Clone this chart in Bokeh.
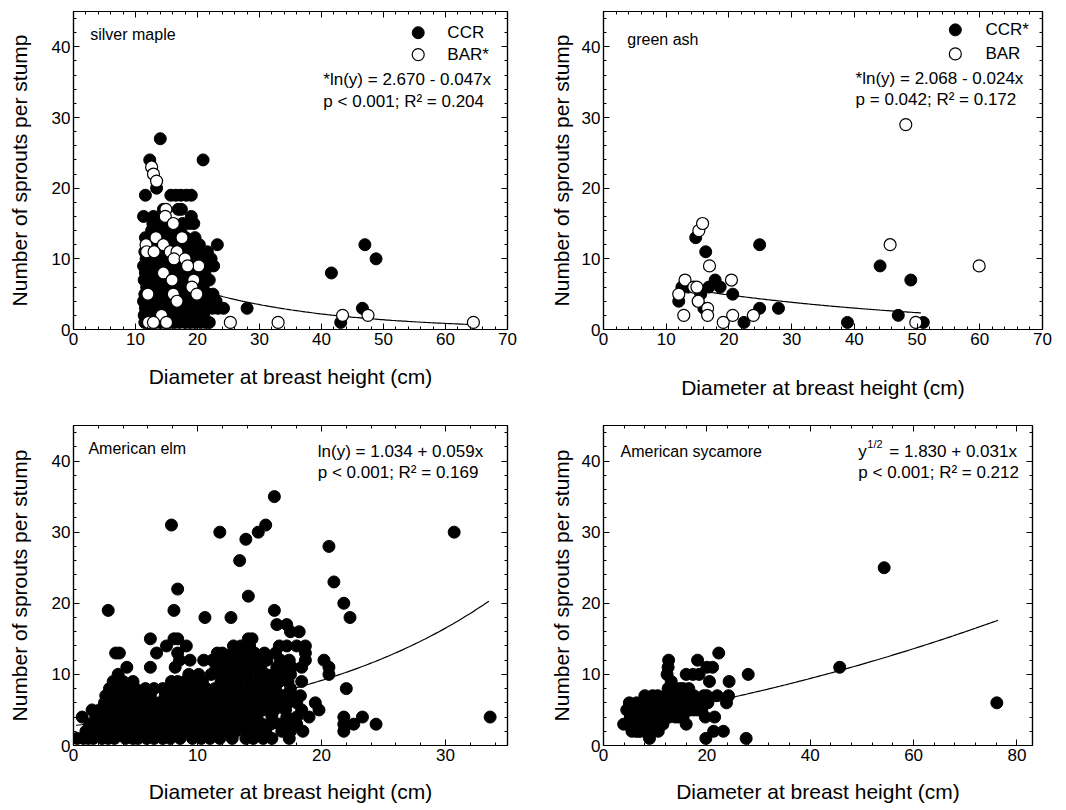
import numpy as np
from bokeh.plotting import figure
from bokeh.layouts import column, row
from bokeh.models import LinearAxis, Label, Range1d, SingleIntervalTicker
from bokeh.embed import file_html
from bokeh.resources import INLINE

FONT = "Liberation Sans"

# ---------------- data (DBH cm, sprouts per stump) ----------------
silver_ccr = [
    (11.5, 1), (12.3, 1), (13.2, 1), (14.0, 1), (14.8, 1), (15.5, 1), (16.3, 1), (17.1, 1), (18.0, 1), (18.8, 1),
    (19.6, 1), (20.5, 1), (21.3, 1), (21.9, 1), (43.1, 1),
    (11.4, 2), (12.6, 2), (13.8, 2), (15.1, 2), (16.4, 2), (17.6, 2), (18.9, 2), (20.1, 2), (21.0, 2),
    (11.6, 3), (12.2, 3), (13.5, 3), (14.6, 3), (15.8, 3), (17.0, 3), (18.3, 3), (19.5, 3), (20.8, 3), (22.4, 3),
    (23.3, 3), (24.2, 3), (28.0, 3), (46.6, 3),
    (11.3, 4), (12.9, 4), (14.2, 4), (15.6, 4), (16.9, 4), (18.5, 4), (19.9, 4), (21.5, 4), (23.0, 4),
    (11.5, 5), (12.1, 5), (13.4, 5), (14.9, 5), (16.1, 5), (17.4, 5), (18.7, 5), (20.3, 5), (21.8, 5), (22.5, 5),
    (11.8, 6), (13.0, 6), (14.4, 6), (15.9, 6), (17.2, 6), (18.2, 6), (19.4, 6), (20.9, 6),
    (11.4, 7), (12.4, 7), (13.7, 7), (15.2, 7), (16.6, 7), (17.8, 7), (19.1, 7), (20.4, 7), (21.9, 7),
    (11.6, 8), (12.8, 8), (14.1, 8), (15.4, 8), (16.8, 8), (18.4, 8), (19.8, 8), (21.2, 8), (41.6, 8),
    (11.3, 9), (12.5, 9), (13.9, 9), (15.0, 9), (16.2, 9), (17.5, 9), (18.9, 9), (20.0, 9), (21.4, 9), (22.6, 9),
    (11.7, 10), (12.9, 10), (14.3, 10), (15.7, 10), (17.1, 10), (18.6, 10), (20.2, 10), (21.0, 10), (22.2, 10), (48.8, 10),
    (11.5, 11), (12.2, 11), (13.6, 11), (15.3, 11), (16.5, 11), (17.9, 11), (19.3, 11), (20.6, 11), (21.6, 11),
    (11.9, 12), (13.1, 12), (14.7, 12), (16.0, 12), (17.7, 12), (19.0, 12), (20.3, 12), (23.2, 12), (47.0, 12),
    (11.6, 13), (12.3, 13), (13.8, 13), (15.5, 13), (16.7, 13), (18.1, 13), (19.6, 13),
    (12.6, 14), (13.9, 14), (15.1, 14), (16.4, 14), (17.3, 14),
    (12.8, 15), (13.5, 15), (14.6, 15), (17.6, 15), (18.7, 15), (19.4, 15),
    (11.3, 16), (12.9, 16), (14.0, 16), (19.0, 16),
    (14.5, 17), (16.9, 17), (17.4, 17),
    (11.6, 19), (15.7, 19), (16.5, 19), (17.3, 19), (18.2, 19), (19.0, 19),
    (13.4, 20), (12.3, 24), (20.9, 24), (14.0, 27),
]
silver_bar = [
    (12.6, 23), (12.9, 22), (13.4, 21), (14.9, 17), (14.8, 16), (16.1, 15), (17.5, 13), (11.7, 12), (13.3, 13),
    (14.5, 12), (11.8, 11), (13.0, 11), (15.6, 11), (16.7, 11), (16.2, 10), (18.0, 10), (20.2, 9), (18.4, 9),
    (14.5, 8), (15.9, 7), (19.4, 7), (19.1, 6), (12.0, 5), (16.1, 5), (16.7, 4), (19.9, 5), (14.2, 2),
    (12.1, 1), (12.9, 1), (15.0, 1), (25.3, 1), (33.0, 1), (43.4, 2), (47.5, 2), (64.5, 1),
]
ash_ccr = [
    (12.0, 4), (12.5, 6), (13.5, 6), (14.7, 13), (16.3, 11), (15.5, 5), (16.0, 3), (16.8, 6), (17.8, 7), (18.6, 6),
    (20.6, 5), (24.9, 12), (24.9, 3), (27.9, 3), (22.4, 1), (38.9, 1), (44.1, 9), (49.0, 7), (47.0, 2), (51.0, 1),
]
ash_bar = [
    (12.0, 5), (12.8, 2), (13.0, 7), (14.4, 6), (14.9, 6), (15.2, 14), (15.8, 15), (15.1, 4), (16.9, 9), (16.6, 3),
    (16.6, 2), (19.1, 1), (20.4, 7), (20.6, 2), (23.9, 2), (45.7, 12), (48.2, 29), (49.8, 1), (59.9, 9),
]
elm = [
    (0.3, 1), (0.8, 1), (1.2, 1), (1.6, 1), (2.3, 1), (2.8, 1), (3.3, 1), (4.2, 1), (4.8, 1), (5.2, 1), (5.9, 1),
    (6.5, 1), (7.2, 1), (7.8, 1), (8.6, 1), (9.6, 1), (10.3, 1), (11.0, 1), (11.8, 1), (12.8, 1), (13.9, 1),
    (14.5, 1), (15.3, 1), (16.0, 1), (17.4, 1),
    (1.0, 2), (1.6, 2), (2.2, 2), (2.9, 2), (3.5, 2), (3.9, 2), (4.2, 2), (5.0, 2), (5.6, 2), (6.1, 2), (6.8, 2),
    (7.5, 2), (7.9, 2), (8.3, 2), (9.2, 2), (10.0, 2), (10.8, 2), (11.4, 2), (12.0, 2), (12.5, 2), (13.1, 2),
    (14.0, 2), (14.8, 2), (15.5, 2), (16.8, 2), (17.5, 2), (18.5, 2), (21.8, 2),
    (1.3, 3), (1.9, 3), (2.6, 3), (3.2, 3), (3.9, 3), (4.6, 3), (5.4, 3), (6.3, 3), (7.1, 3), (7.9, 3), (8.7, 3),
    (9.5, 3), (10.4, 3), (11.2, 3), (11.9, 3), (12.6, 3), (13.0, 3), (13.5, 3), (14.4, 3), (15.2, 3), (15.9, 3),
    (16.6, 3), (17.3, 3), (18.0, 3), (21.8, 3), (22.6, 3), (24.4, 3),
    (0.7, 4), (1.8, 4), (2.4, 4), (3.0, 4), (3.7, 4), (4.4, 4), (5.1, 4), (5.8, 4), (6.6, 4), (7.3, 4), (8.1, 4),
    (9.0, 4), (9.8, 4), (10.6, 4), (11.5, 4), (12.3, 4), (13.2, 4), (13.9, 4), (14.8, 4), (16.0, 4), (17.2, 4),
    (18.0, 4), (19.0, 4), (21.8, 4), (23.3, 4), (33.6, 4),
    (1.5, 5), (2.1, 5), (2.7, 5), (3.4, 5), (4.0, 5), (4.9, 5), (5.6, 5), (6.4, 5), (7.0, 5), (7.7, 5), (8.6, 5),
    (9.3, 5), (10.1, 5), (11.0, 5), (11.8, 5), (12.7, 5), (13.6, 5), (14.5, 5), (15.3, 5), (16.2, 5), (17.1, 5),
    (18.4, 5), (19.8, 5),
    (2.5, 6), (3.1, 6), (3.8, 6), (4.5, 6), (5.3, 6), (6.0, 6), (6.9, 6), (7.6, 6), (8.4, 6), (9.1, 6), (9.7, 6),
    (10.3, 6), (10.8, 6), (11.3, 6), (12.2, 6), (13.0, 6), (13.8, 6), (14.7, 6), (15.6, 6), (16.5, 6), (17.3, 6),
    (18.0, 6), (19.5, 6),
    (2.6, 7), (3.3, 7), (4.1, 7), (4.8, 7), (5.5, 7), (6.2, 7), (7.4, 7), (8.2, 7), (9.0, 7), (9.7, 7), (10.3, 7),
    (10.9, 7), (11.7, 7), (12.5, 7), (13.4, 7), (14.2, 7), (15.1, 7), (16.0, 7), (16.9, 7), (17.6, 7), (18.3, 7),
    (2.9, 8), (3.6, 8), (4.3, 8), (5.0, 8), (5.8, 8), (6.5, 8), (7.2, 8), (8.0, 8), (8.7, 8), (9.4, 8), (10.1, 8),
    (10.7, 8), (11.4, 8), (12.1, 8), (12.9, 8), (13.7, 8), (14.6, 8), (15.4, 8), (16.3, 8), (17.5, 8), (22.0, 8),
    (3.2, 9), (4.0, 9), (4.8, 9), (7.9, 9), (8.4, 9), (9.0, 9), (9.6, 9), (10.4, 9), (11.9, 9), (12.6, 9),
    (13.3, 9), (14.3, 9), (15.0, 9), (15.7, 9), (16.6, 9), (17.3, 9), (18.4, 9),
    (3.6, 10), (9.3, 10), (10.1, 10), (11.1, 10), (11.8, 10), (12.3, 10), (13.1, 10), (13.7, 10), (14.0, 10),
    (15.0, 10), (15.5, 10), (16.1, 10), (16.9, 10), (17.5, 10), (20.6, 10),
    (4.3, 11), (6.2, 11), (8.2, 11), (11.5, 11), (12.1, 11), (12.8, 11), (13.6, 11), (14.0, 11), (14.4, 11),
    (15.1, 11), (16.4, 11), (17.0, 11), (17.6, 11), (18.4, 11), (20.6, 11),
    (8.55, 12), (9.4, 12), (10.5, 12), (11.2, 12), (12.0, 12), (12.9, 12), (13.5, 12), (14.1, 12), (14.9, 12),
    (15.6, 12), (16.7, 12), (17.4, 12), (18.7, 12), (20.2, 12),
    (3.4, 13), (3.7, 13), (6.7, 13), (8.4, 13), (11.6, 13), (12.0, 13), (12.8, 13), (13.7, 13), (14.6, 13),
    (15.4, 13), (16.3, 13), (18.7, 13),
    (7.5, 14), (9.1, 14), (12.9, 14), (13.5, 14), (14.2, 14), (16.6, 14), (17.2, 14), (18.0, 14), (18.7, 14),
    (6.2, 15), (8.1, 15), (8.4, 15), (14.1, 15), (14.4, 15),
    (17.5, 16), (18.2, 16), (16.4, 17), (17.2, 17),
    (10.6, 18), (12.7, 18), (22.3, 18), (2.8, 19), (8.1, 19), (16.2, 19),
    (21.8, 20), (14.1, 21), (8.4, 22), (21.0, 23), (13.4, 26), (20.6, 28), (13.9, 29),
    (11.8, 30), (14.9, 30), (30.7, 30), (7.9, 31), (15.5, 31), (16.2, 35),
]
sycamore = [
    (8.9, 1), (19.8, 1), (27.6, 1),
    (5.5, 2), (6.3, 2), (6.8, 2), (7.1, 2), (8.0, 2), (9.5, 2), (10.6, 2), (21.3, 2), (23.2, 2),
    (3.9, 3), (4.7, 3), (5.2, 3), (6.0, 3), (6.6, 3), (7.4, 3), (8.0, 3), (8.6, 3), (9.2, 3), (9.8, 3), (10.3, 3),
    (10.9, 3), (11.5, 3), (16.0, 3),
    (5.2, 4), (6.5, 4), (7.1, 4), (7.8, 4), (8.8, 4), (9.6, 4), (10.4, 4), (11.3, 4), (12.7, 4), (13.9, 4), (14.6, 4),
    (15.4, 4), (19.7, 4), (21.5, 4),
    (4.5, 5), (5.8, 5), (7.0, 5), (8.2, 5), (9.3, 5), (10.2, 5), (11.1, 5), (12.4, 5), (13.6, 5), (14.4, 5),
    (15.2, 5), (16.0, 5), (16.8, 5), (17.5, 5), (18.2, 5), (19.0, 5),
    (5.0, 6), (6.4, 6), (7.7, 6), (8.5, 6), (9.1, 6), (10.0, 6), (11.3, 6), (12.8, 6), (13.5, 6), (14.1, 6),
    (15.5, 6), (16.8, 6), (17.4, 6), (18.6, 6), (20.2, 6), (23.8, 6), (76.1, 6),
    (8.0, 7), (9.5, 7), (10.5, 7), (12.0, 7), (13.3, 7), (14.8, 7), (15.5, 7), (16.2, 7), (17.5, 7), (19.4, 7),
    (20.0, 7), (22.0, 7), (24.2, 7),
    (12.5, 8), (13.9, 8), (14.8, 8), (15.4, 8), (16.5, 8),
    (13.1, 9), (20.5, 9), (24.3, 9),
    (12.3, 10), (16.0, 10), (17.3, 10), (18.5, 10), (28.0, 10),
    (12.5, 11), (20.0, 11), (21.1, 11), (45.7, 11),
    (12.6, 12), (18.2, 12), (22.3, 13), (54.3, 25),
]

# fitted models printed on the panels: (intercept, slope, x from, x to)
silver_fit = (2.670, -0.047, 11.3, 64.5)   # ln(y) = a + b x
ash_fit = (2.068, -0.024, 12.0, 50.6)      # ln(y) = a + b x
elm_fit = (1.034, 0.059, 0.2, 33.5)        # ln(y) = a + b x
syc_fit = (1.830, 0.031, 4.0, 76.3)        # y^(1/2) = a + b x

panel_names = ["silver maple", "green ash", "American elm", "American sycamore"]
x_label = "Diameter at breast height (cm)"
y_label = "Number of sprouts per stump"


def xs_ys(pts):
    return [p[0] for p in pts], [p[1] for p in pts]


def style_axis(ax, labels=True):
    ax.major_tick_in = 6
    ax.major_tick_out = 0
    ax.minor_tick_in = 3
    ax.minor_tick_out = 0
    ax.axis_line_color = "black"
    ax.axis_line_width = 1.2
    ax.major_tick_line_color = "black"
    ax.minor_tick_line_color = "black"
    ax.major_tick_line_width = 1
    ax.minor_tick_line_width = 1
    ax.major_label_text_font = FONT
    ax.axis_label_text_font = FONT
    ax.axis_label_text_font_style = "normal"
    ax.axis_label_text_color = "black"
    if labels:
        ax.major_label_text_color = "black"
        ax.major_label_text_font_size = "17px"
        ax.major_label_standoff = 3
        ax.axis_label_text_font_size = "21px"
    else:
        ax.major_label_text_color = None
        ax.major_label_text_font_size = "0px"
        ax.major_label_standoff = 0


def make_panel(xmax, xstep, fw, fh, bl, br, bt, bb, ylab_sd, xlab_sd):
    p = figure(frame_width=fw, frame_height=fh,
               x_range=Range1d(0, xmax), y_range=Range1d(0, 45),
               output_backend="svg", toolbar_location=None,
               min_border_left=bl, min_border_right=br,
               min_border_top=bt, min_border_bottom=bb)
    p.xgrid.visible = False
    p.ygrid.visible = False
    p.outline_line_color = "black"
    p.outline_line_width = 1.2
    p.background_fill_color = "white"
    p.border_fill_color = "white"
    bx = p.below[0]
    ly = p.left[0]
    bx.ticker = SingleIntervalTicker(interval=xstep, num_minor_ticks=5)
    ly.ticker = SingleIntervalTicker(interval=10, num_minor_ticks=5)
    style_axis(bx)
    style_axis(ly)
    bx.axis_label = x_label
    ly.axis_label = y_label
    bx.axis_label_standoff = xlab_sd
    ly.axis_label_standoff = ylab_sd
    top = LinearAxis(ticker=SingleIntervalTicker(interval=xstep, num_minor_ticks=5))
    right = LinearAxis(ticker=SingleIntervalTicker(interval=10, num_minor_ticks=5))
    style_axis(top, labels=False)
    style_axis(right, labels=False)
    p.add_layout(top, "above")
    p.add_layout(right, "right")
    return p


def curve(fit, kind):
    a, b, lo, hi = fit
    x = np.linspace(lo, hi, 150)
    if kind == "log":
        y = np.exp(a + b * x)
    else:
        y = (a + b * x) ** 2
    return x, y


def text(p, x, y, s, size="17px", xo=0, yo=0):
    p.add_layout(Label(x=x, y=y, text=s, text_font=FONT, text_font_size=size,
                       text_color="black", text_baseline="middle", text_align="left",
                       x_offset=xo, y_offset=yo))


def filled(p, pts):
    x, y = xs_ys(pts)
    p.scatter(x, y, size=12, fill_color="black", line_color="black", line_width=1)


def hollow(p, pts):
    x, y = xs_ys(pts)
    p.scatter(x, y, size=12, fill_color="white", line_color="black", line_width=1.2)


# ---------------- panel 1: silver maple ----------------
p1 = make_panel(70, 10, 434, 318, 73, 31, 8, 83, 18, 17)
cx, cy = curve(silver_fit, "log")
p1.line(cx, cy, line_color="black", line_width=1.2)
filled(p1, silver_ccr)
hollow(p1, silver_bar)
text(p1, 2.7, 41.7, panel_names[0], size="16px")
p1.scatter([55.6], [42.0], size=12, fill_color="black", line_color="black")
p1.scatter([55.6], [38.9], size=12, fill_color="white", line_color="black", line_width=1.2)
text(p1, 60.3, 42.0, "CCR")
text(p1, 60.3, 38.9, "BAR*")
text(p1, 40.3, 35.4, "*ln(y) = 2.670 - 0.047x")
text(p1, 40.3, 32.2, "p < 0.001; R\u00b2 = 0.204")

# ---------------- panel 2: green ash ----------------
p2 = make_panel(70, 10, 439, 318, 65, 16, 11, 80, 6, 28)
cx, cy = curve(ash_fit, "log")
p2.line(cx, cy, line_color="black", line_width=1.2)
filled(p2, ash_ccr)
hollow(p2, ash_bar)
text(p2, 3.8, 41.0, panel_names[1], size="16px")
p2.scatter([56.1], [42.4], size=12, fill_color="black", line_color="black")
p2.scatter([56.1], [39.0], size=12, fill_color="white", line_color="black", line_width=1.2)
text(p2, 60.9, 42.4, "CCR*")
text(p2, 60.9, 39.0, "BAR")
text(p2, 40.2, 35.5, "*ln(y) = 2.068 - 0.024x")
text(p2, 40.2, 32.5, "p = 0.042; R\u00b2 = 0.172")

# ---------------- panel 3: American elm ----------------
p3 = make_panel(35, 10, 434, 320, 73, 31, 16, 50, 18, 16)
cx, cy = curve(elm_fit, "log")
p3.line(cx, cy, line_color="black", line_width=1.2)
filled(p3, elm)
text(p3, 1.2, 41.7, panel_names[2], size="16px")
text(p3, 19.7, 41.4, "ln(y) = 1.034 + 0.059x")
text(p3, 19.7, 38.4, "p < 0.001; R\u00b2 = 0.169")

# ---------------- panel 4: American sycamore ----------------
p4 = make_panel(83, 20, 429, 320, 65, 26, 16, 50, 6, 16)
cx, cy = curve(syc_fit, "sqrt")
p4.line(cx, cy, line_color="black", line_width=1.2)
filled(p4, sycamore)
text(p4, 3.3, 41.4, panel_names[3], size="16px")
text(p4, 49.3, 41.4, "y")
text(p4, 49.3, 41.4, "1/2", size="11px", xo=9, yo=7)
text(p4, 49.3, 41.4, "= 1.830 + 0.031x", xo=31)
text(p4, 49.3, 38.4, "p < 0.001; R\u00b2 = 0.212")

layout = column(row(p1, p2), row(p3, p4))
open("out.html", "w").write(file_html(layout, INLINE))
